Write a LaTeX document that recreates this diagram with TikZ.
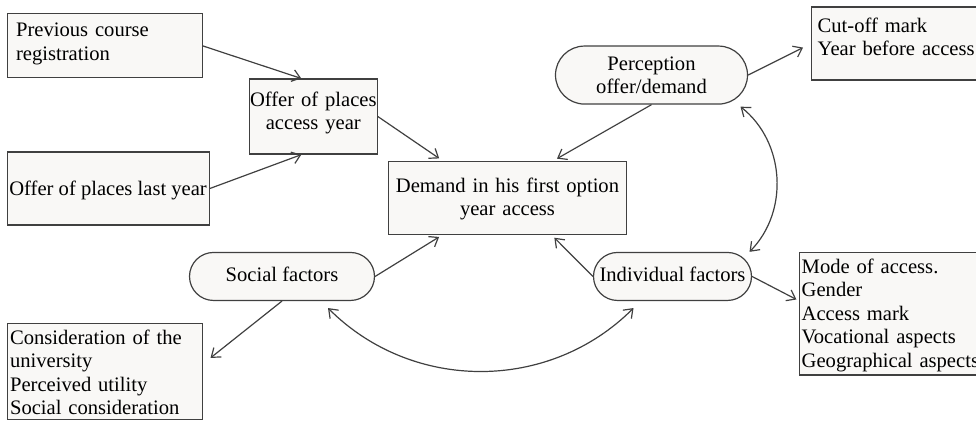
\documentclass[tikz,border=0pt]{standalone}
\usepackage{fontspec}
\setmainfont{Liberation Serif}
\usetikzlibrary{arrows.meta,positioning}
\definecolor{boxcolor}{RGB}{249,248,246}
\definecolor{linecolor}{RGB}{64,64,64}

\begin{document}
\begin{tikzpicture}[
    x=0.5pt, y=-0.5pt,
    every node/.style={font=\fontsize{10.3}{11.75}\selectfont},
    box/.style={rectangle, fill=boxcolor, draw=linecolor, line width=0.6pt, inner ysep=0pt},
    listbox/.style={box, align=left, inner xsep=1.5pt},
    centerbox/.style={box, align=center, inner xsep=0pt},
    factor/.style={rectangle, rounded corners=12pt, fill=boxcolor, draw=linecolor, line width=0.6pt, inner sep=0pt, align=center, text height=14.5pt, text depth=9.5pt},
    arrow/.style={->, >={Straight Barb[length=4pt,width=6pt]}, line width=0.6pt, draw=linecolor},
    twoway/.style={arrow, <->}
]

% Page size of the reference
\useasboundingbox (0,0) rectangle (976,420);

% Central node
\node[centerbox, text width=119pt, text height=15.5pt, text depth=21pt] (D) at (507.5,197.75) {Demand in his first option\\year access};

% Offer of places - left side
\node[centerbox, text width=64pt, text height=13.5pt, text depth=24pt, above left=3pt and 5pt of D] (Acc) {Offer of places\\access year};
\node[listbox, text width=88.5pt, inner xsep=4.5pt, text height=11.5pt, text depth=20.5pt, above left=0pt and 23pt of Acc] (Prev) {Previous course\\registration};
\node[box, minimum width=101pt, inner xsep=0pt, text height=21.5pt, text depth=15pt, left=19.5pt of Acc, yshift=-36pt] (Last) {Offer of places last year};

% Perception - top right
\node[factor, rounded corners=14.5pt, text width=92pt, inner xsep=2pt, text height=12pt, text depth=17pt, above=28pt of D, xshift=72pt] (Perc) {Perception\\offer/demand};
\node[listbox, text width=90pt, inner xsep=3pt, text height=12.5pt, text depth=24pt, right=31.5pt of Perc, yshift=15.75pt] (Cut) {Cut-off mark\\Year before access};

% Factors - below
\node[factor, minimum width=92.5pt, below=8.5pt of D, xshift=-112.75pt] (Soc) {Social factors};
\node[factor, minimum width=79pt, below=8.5pt of D, xshift=82.5pt] (Ind) {Individual factors};
\node[listbox, text width=94.5pt, text height=10.5pt, text depth=37.75pt, below=48.5pt of Last.south west, anchor=north west] (Cons) {Consideration of the\\university\\Perceived utility\\Social consideration};
\node[listbox, text width=92pt, inner xsep=1pt, text height=10.3pt, text depth=51pt, right=23.5pt of Ind.north east, anchor=north west] (Mode) {Mode of access.\\Gender\\Access mark\\Vocational aspects\\Geographical aspects};

% Arrows
\draw[arrow] (Prev.east) -- ([xshift=-6pt]Acc.north);
\draw[arrow] (Last.east) -- ([xshift=-6pt]Acc.south);
\draw[arrow, shorten >=2pt] (Acc.east) -- ([xshift=-32.5pt]D.north);
\draw[arrow, shorten >=2pt] (Perc.south) -- ([xshift=23pt]D.north);
\draw[arrow, shorten >=4.5pt] (Perc.east) -- (Cut.west);
\draw[arrow, shorten >=2pt] (Soc.east) -- ([xshift=-32.5pt]D.south);
\draw[arrow, shorten >=2pt] (Ind.west) -- ([xshift=22pt]D.south);
\draw[arrow, shorten >=1.5pt] (Ind.east) -- ([yshift=-24.5pt]Mode.north west);
\draw[arrow, shorten >=5pt] (Soc.south) -- ([yshift=3.7pt]Cons.east);
% Two-way curves
\draw[twoway] ([xshift=38.5pt]Ind.north) to[bend right=48] ([xshift=44.5pt,yshift=-1pt]Perc.south);
\draw[twoway] ([xshift=23pt,yshift=-3.5pt]Soc.south) to[bend right=45] ([xshift=-19.5pt,yshift=-3.5pt]Ind.south);

\end{tikzpicture}
\end{document}
